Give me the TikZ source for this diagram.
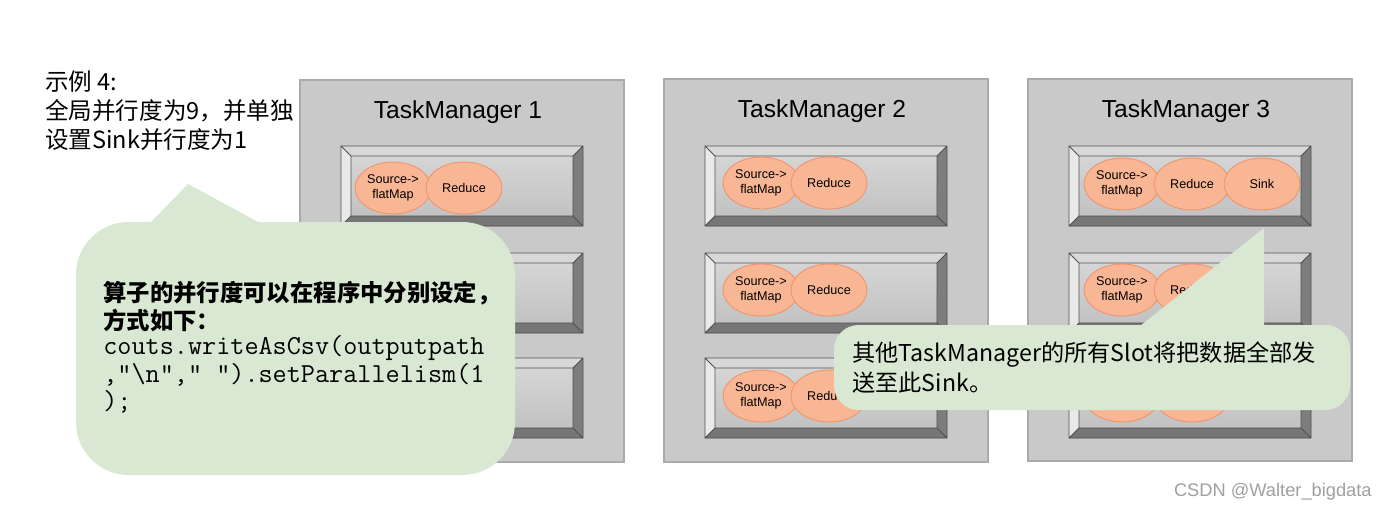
\documentclass[tikz,border=0pt]{standalone}
\usepackage{fontspec}
\setmainfont{Liberation Sans}
\newfontfamily\cjk{Noto Sans CJK SC}
\usetikzlibrary{shapes, positioning}

\definecolor{tmfill}{RGB}{201,201,201}
\definecolor{tmline}{RGB}{170,170,170}
\definecolor{opfill}{RGB}{249,182,148}
\definecolor{opline}{RGB}{238,148,108}
\definecolor{notefill}{RGB}{217,232,210}
\definecolor{bevleft}{RGB}{233,233,233}
\definecolor{bevtop}{RGB}{216,216,216}
\definecolor{bevright}{RGB}{125,125,125}
\definecolor{bevbottom}{RGB}{118,118,118}
\definecolor{slotline}{RGB}{80,80,80}
\definecolor{markgray}{RGB}{160,160,160}

\tikzset{
    tmbox/.style={fill=tmfill, draw=tmline, line width=0.6pt},
    tmtitle/.style={inner sep=0pt, font=\fontsize{14}{16}\selectfont},
    op/.style={ellipse, draw=opline, fill=opfill, line width=0.5pt,
        minimum width=1.52cm, minimum height=1.04cm, inner sep=0pt,
        align=center, font=\fontsize{7.2}{8.5}\selectfont},
    note/.style={fill=notefill},
    cntext/.style={anchor=west, inner sep=0pt, font=\cjk\fontsize{13.4}{16}\selectfont},
    codetext/.style={anchor=west, inner sep=0pt, font=\ttfamily\fontsize{15.6}{18}\selectfont},
}

\begin{document}
\begin{tikzpicture}[x=0.02cm, y=-0.02cm]
    \fill[white] (0,0) rectangle (1387,511);
    \useasboundingbox (0,0) rectangle (1387,511);

    % heading
    \node[cntext] (ex) at (45,82) {示例 4:};
    \node[cntext] (ex2) at (45,111) {全局并行度为9，并单独};
    \node[cntext] (ex3) at (45,140) {设置Sink并行度为1};

    % task managers
    \draw[tmbox] (300,80) rectangle (624,462);
    \draw[tmbox] (664,79) rectangle (988,462);
    \draw[tmbox] (1028,79) rectangle (1352,461);
    \node[tmtitle] (tm1) at (458,112) {TaskManager 1};
    \node[tmtitle] (tm2) at (822,111) {TaskManager 2};
    \node[tmtitle] (tm3) at (1186,111) {TaskManager 3};

    % slots
    \foreach \sx in {341,705,1069}
        \foreach \sy in {146,253,358}{
            \begin{scope}[shift={(\sx,\sy)}]
                \shade[top color=bevtop, bottom color=tmfill!95!black] (0,0) rectangle (242,80);
                \fill[bevtop] (0,0) -- (242,0) -- (232,10) -- (10,10) -- cycle;
                \fill[bevleft] (0,0) -- (10,10) -- (10,70) -- (0,80) -- cycle;
                \fill[bevright] (242,0) -- (242,80) -- (232,70) -- (232,10) -- cycle;
                \fill[bevbottom] (0,80) -- (242,80) -- (232,70) -- (10,70) -- cycle;
                \draw[slotline, line width=0.5pt] (0,0) rectangle (242,80)
                    (10,10) rectangle (232,70)
                    (0,0) -- (10,10) (242,0) -- (232,10)
                    (242,80) -- (232,70) (0,80) -- (10,70);
            \end{scope}
        }

    % operators
    \node[op] (src11) at (393,188) {Source->\\flatMap};
    \node[op] (red11) at (464,188) {Reduce};

    \node[op] (src21) at (761,183) {Source->\\flatMap};
    \node[op] (red21) at (829,183) {Reduce};
    \node[op] (src22) at (761,290) {Source->\\flatMap};
    \node[op] (red22) at (829,290) {Reduce};
    \node[op] (src23) at (761,396) {Source->\\flatMap};
    \node[op] (red23) at (829,396) {Reduce};

    \node[op] (src31) at (1122,184) {Source->\\flatMap};
    \node[op] (red31) at (1192,184) {Reduce};
    \node[op] (sink) at (1262,184) {Sink};
    \node[op] (src32) at (1122,290) {Source->\\flatMap};
    \node[op] (red32) at (1192,290) {Reduce};
    \node[op] (src33) at (1122,396) {};
    \node[op] (red33) at (1192,396) {};

    % callouts
    \fill[note] (150,223) -- (188,184) -- (260,223) -- cycle;
    \fill[note, rounded corners=30] (76,222) rectangle (515,475);
    \node[anchor=west, inner sep=0pt, font=\cjk\bfseries\fontsize{13.3}{15}\selectfont]
        (set1) at (103,293) {算子的并行度可以在程序中分别设定，};
    \node[anchor=west, inner sep=0pt, font=\cjk\bfseries\fontsize{13.3}{15}\selectfont]
        (set2) at (103,320) {方式如下：};
    \node[codetext] (code1) at (103,348) {couts.writeAsCsv(outputpath};
    \node[codetext] (code2) at (103,375) {,”\textbackslash n”,” ”).setParallelism(1};
    \node[codetext] (code3) at (103,402) {);};

    \fill[note] (1140,326) -- (1264,228) -- (1264,326) -- cycle;
    \fill[note, rounded corners=14] (834,325) rectangle (1350,410);
    \node[cntext, font=\cjk\fontsize{13.2}{16}\selectfont] (all1) at (852,355) {其他TaskManager的所有Slot将把数据全部发};
    \node[cntext, font=\cjk\fontsize{13.2}{16}\selectfont] (all2) at (852,383) {送至此Sink。};

    \node[anchor=east, inner sep=0pt, text=markgray, font=\fontsize{10.4}{12}\selectfont]
        (mark) at (1372,492) {CSDN @Walter\_bigdata};
\end{tikzpicture}
\end{document}
